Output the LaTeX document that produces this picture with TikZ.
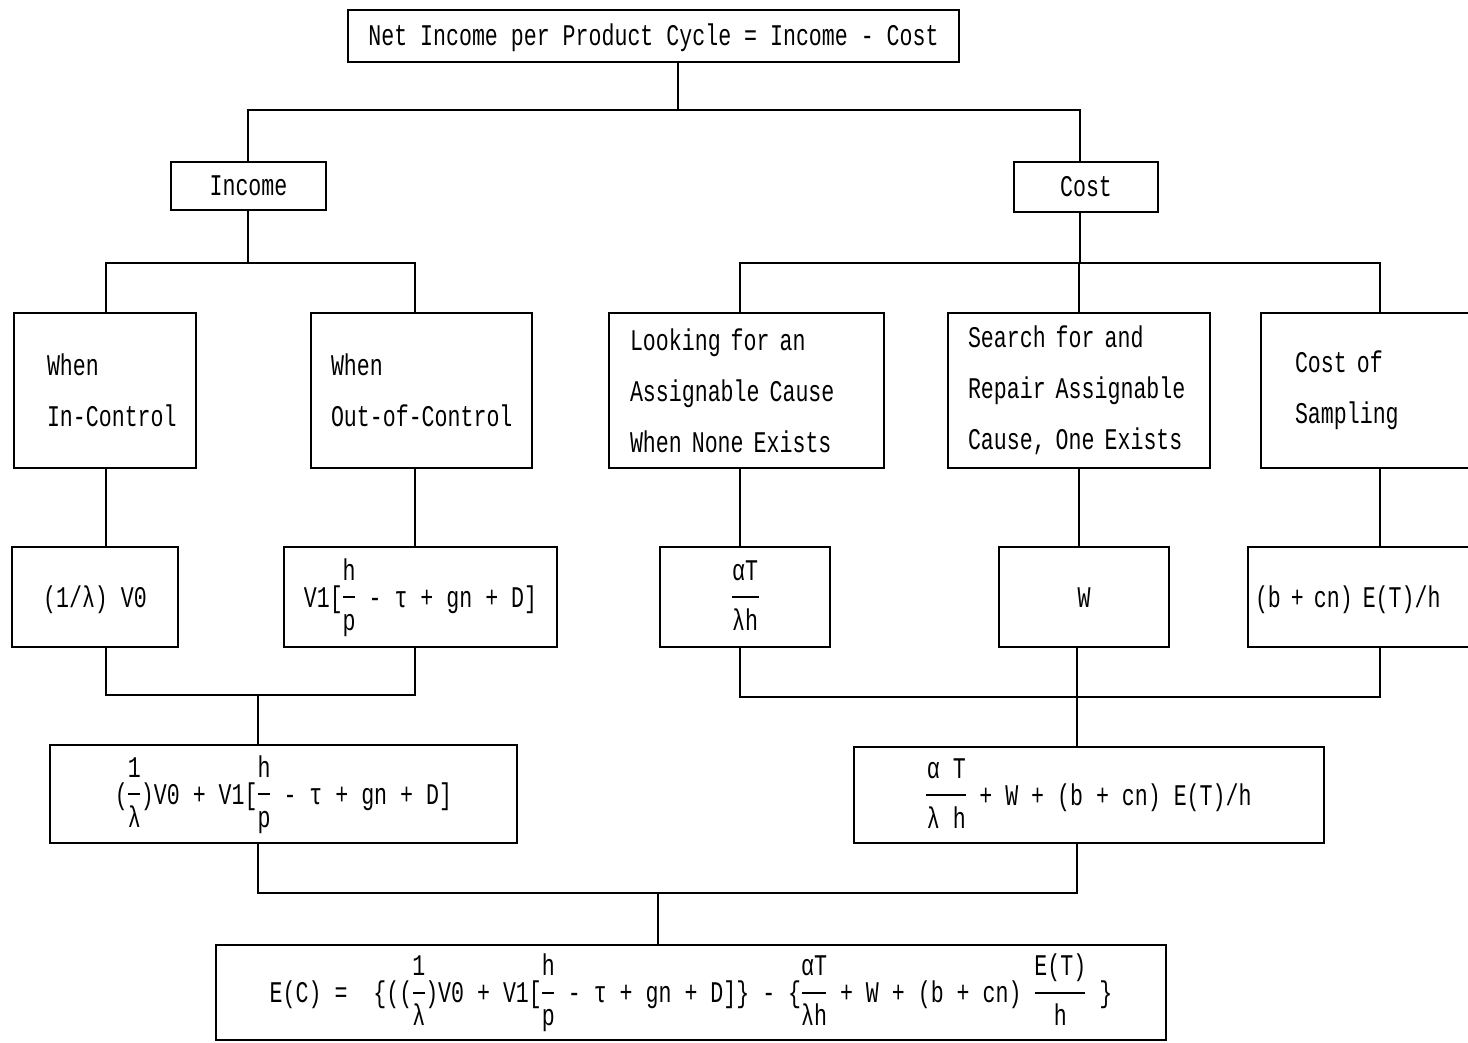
\documentclass[tikz,border=0pt]{standalone}
\usepackage{fontspec}
\setmainfont[FakeStretch=0.72]{Liberation Mono}
\newcommand\fr[3]{\ooalign{\hfil\raisebox{27pt}[0pt][0pt]{#1}\hfil\cr\hfil#2\hfil\cr\hfil\raisebox{-23pt}[0pt][0pt]{#3}\hfil\cr}}
\newcommand\fbar[1]{\rule[9pt]{#1}{1.8pt}}
\tikzset{
  boxed/.style={draw, line width=1.9pt, inner sep=0pt, font=\fontsize{30pt}{51pt}\selectfont},
  oneline/.style={boxed, text height=20pt, text depth=0pt},
  multi/.style={boxed, align=left},
  conn/.style={line width=1.7pt},
}
\begin{document}
\begin{tikzpicture}[x=1pt,y=-1pt]
\useasboundingbox (0,0) rectangle (1468,1043);
\clip (0,0) rectangle (1468,1043);
\fill[white] (0,0) rectangle (1468,1043);

% top
\node[oneline, minimum width=611pt, minimum height=52pt] (top) at (653.5,36) {Net Income per Product Cycle = Income - Cost};
\node[oneline, minimum width=155pt, minimum height=48pt] (inc) at (248.5,186) {Income};
\node[oneline, minimum width=144pt, minimum height=50pt] (cost) at (1086,187) {Cost};

% row 3
\node[multi, minimum height=155pt, inner xsep=33pt, text width=116pt] (r3a) at (105,390.5) {\mbox{When}\\\mbox{In-Control}};
\node[multi, minimum height=155pt, inner xsep=20pt, text width=181pt] (r3b) at (421.5,390.5) {\mbox{When}\\\mbox{Out-of-Control}};
\node[multi, minimum height=155pt, inner xsep=21pt, text width=233pt] (r3c) at (746.5,390.5) {\mbox{Looking for an}\\\mbox{Assignable Cause}\\\mbox{When None Exists}};
\node[multi, minimum height=155pt, inner xsep=20pt, text width=222pt] (r3d) at (1079,390.5) {\mbox{Search for and}\\\mbox{Repair Assignable}\\\mbox{Cause, One Exists}};
\node[multi, minimum height=155pt, inner xsep=34pt, text width=171pt] (r3e) at (1380.5,390.5) {\mbox{Cost of}\\\mbox{Sampling}};

% row 4
\node[oneline, minimum width=166pt, minimum height=100pt] (r4a) at (95,597) {(1/λ) V0};
\node[oneline, minimum width=273pt, minimum height=100pt] (r4b) at (420.5,597) {V1[\fr{h}{\fbar{12pt}}{p} - τ + gn + D]};
\node[oneline, minimum width=170pt, minimum height=100pt] (r4c) at (745,597) {\fr{αT}{\fbar{27pt}}{λh}};
\node[oneline, minimum width=170pt, minimum height=100pt] (r4d) at (1084,597) {W};
\node[oneline, align=left, minimum height=100pt, inner xsep=7pt, text width=250pt] (r4e) at (1380,597) {(b + cn) E(T)/h};

% sums
\node[oneline, minimum width=467pt, minimum height=98pt] (inco) at (283.5,794) {(\fr{1}{\fbar{12pt}}{λ})V0 + V1[\fr{h}{\fbar{12pt}}{p} - τ + gn + D]};
\node[oneline, minimum width=470pt, minimum height=96pt] (costo) at (1089,795) {\fr{α T}{\fbar{40pt}}{λ h} + W + (b + cn) E(T)/h};

% final
\node[oneline, minimum width=950pt, minimum height=95pt] (ec) at (691,992.5) {E(C) =~ \{((\fr{1}{\fbar{12pt}}{λ})V0 + V1[\fr{h}{\fbar{12pt}}{p} - τ + gn + D]\} - \{\fr{αT}{\fbar{24pt}}{λh} + W + (b + cn) \fr{E(T)}{\fbar{50pt}}{h} \}};

% junction coordinates
\coordinate (j0) at (678,110);
\coordinate (jI) at (248,110);
\coordinate (jC) at (1080,110);
\coordinate (kI) at (248,263);
\coordinate (kC) at (1080,263);
\coordinate (hA) at (106,263);
\coordinate (hB) at (415,263);
\coordinate (hC) at (740,263);
\coordinate (hD) at (1079,263);
\coordinate (hE) at (1380,263);
\coordinate (bA) at (106,695);
\coordinate (bB) at (415,695);
\coordinate (bM) at (258,695);
\coordinate (rC) at (740,697);
\coordinate (rD) at (1077,697);
\coordinate (rE) at (1380,697);
\coordinate (fA) at (258,893);
\coordinate (fB) at (1077,893);
\coordinate (fM) at (658,893);

% connectors
\draw[conn] (top.south -| j0) -- (j0);
\draw[conn] (inc.north -| jI) -- (jI) -- (jC) -- (cost.north -| jC);
\draw[conn] (inc.south -| kI) -- (kI);
\draw[conn] (cost.south -| kC) -- (kC);
\draw[conn] (r3a.north -| hA) -- (hA) -- (hB) -- (r3b.north -| hB);
\draw[conn] (r3c.north -| hC) -- (hC) -- (hE) -- (r3e.north -| hE);
\draw[conn] (r3d.north -| hD) -- (hD);
\draw[conn] (r3a.south -| hA) -- (r4a.north -| hA);
\draw[conn] (r3b.south -| hB) -- (r4b.north -| hB);
\draw[conn] (r3c.south -| hC) -- (r4c.north -| hC);
\draw[conn] (r3d.south -| hD) -- (r4d.north -| hD);
\draw[conn] (r3e.south -| hE) -- (r4e.north -| hE);
\draw[conn] (r4a.south -| bA) -- (bA) -- (bB) -- (r4b.south -| bB);
\draw[conn] (bM) -- (inco.north -| bM);
\draw[conn] (r4c.south -| rC) -- (rC) -- (rE) -- (r4e.south -| rE);
\draw[conn] (r4d.south -| rD) -- (rD) -- (costo.north -| rD);
\draw[conn] (inco.south -| fA) -- (fA) -- (fB) -- (costo.south -| fB);
\draw[conn] (fM) -- (ec.north -| fM);
\end{tikzpicture}
\end{document}
